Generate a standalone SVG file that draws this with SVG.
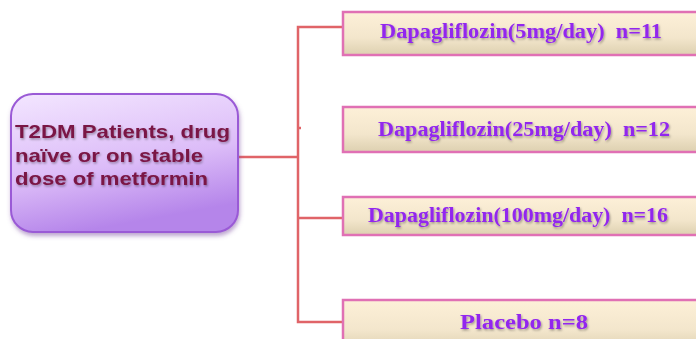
<svg xmlns="http://www.w3.org/2000/svg" width="696" height="339" viewBox="0 0 696 339">
<defs>
<linearGradient id="gL" x1="0" y1="0" x2="0.3" y2="1">
<stop offset="0" stop-color="#f3e6ff"/>
<stop offset="0.6" stop-color="#dcbcf8"/>
<stop offset="1" stop-color="#b585ea"/>
</linearGradient>
<linearGradient id="gB" x1="0" y1="0" x2="0" y2="1">
<stop offset="0" stop-color="#fdf0d8"/>
<stop offset="0.6" stop-color="#f3e6cc"/>
<stop offset="1" stop-color="#ddd0b0"/>
</linearGradient>
<filter id="sh" x="-10%" y="-10%" width="130%" height="130%">
<feDropShadow dx="1" dy="1.5" stdDeviation="1" flood-color="#000" flood-opacity="0.35"/>
</filter>
<filter id="bs" x="-10%" y="-10%" width="130%" height="130%">
<feDropShadow dx="1" dy="3" stdDeviation="2" flood-color="#7a4aa0" flood-opacity="0.5"/>
</filter>
</defs>
<style>
.arm{fill:url(#gB);stroke:#e070b4;stroke-width:2.5}
.at{font-family:"Liberation Serif",serif;font-weight:bold;font-size:20px;fill:#9226ee;text-anchor:middle;filter:url(#sh);white-space:pre}
.lt{font-family:"Liberation Sans",Arial,sans-serif;font-weight:bold;font-size:19px;fill:#7a1444;filter:url(#sh)}
.c{fill:none;stroke:#e06468;stroke-width:2.5}
</style>
<rect width="696" height="339" fill="#ffffff"/>
<g id="connectors">
<path class="c" d="M238,157 H298"/>
<path class="c" d="M342,27 H298 V322 H342"/>
<path class="c" d="M298,128 H301"/>
<path class="c" d="M298,218 H342"/>
</g>
<g id="patients">
<rect x="11" y="94" width="227" height="138" rx="22" fill="url(#gL)" stroke="#9a5ad6" stroke-width="2" filter="url(#bs)"/>
<text class="lt" x="15" y="138" textLength="215" lengthAdjust="spacingAndGlyphs">T2DM Patients, drug</text>
<text class="lt" x="15" y="162" textLength="188" lengthAdjust="spacingAndGlyphs">naïve or on stable</text>
<text class="lt" x="15" y="185" textLength="193" lengthAdjust="spacingAndGlyphs">dose of metformin</text>
</g>
<g id="arm1">
<rect class="arm" x="343" y="12" width="360" height="43"/>
<text class="at" x="521" y="38" textLength="282" lengthAdjust="spacingAndGlyphs" xml:space="preserve">Dapagliflozin(5mg/day)  n=11</text>
</g>
<g id="arm2">
<rect class="arm" x="343" y="107" width="360" height="45"/>
<text class="at" x="524" y="136" textLength="292" lengthAdjust="spacingAndGlyphs" xml:space="preserve">Dapagliflozin(25mg/day)  n=12</text>
</g>
<g id="arm3">
<rect class="arm" x="343" y="197" width="360" height="38"/>
<text class="at" x="518" y="222" textLength="300" lengthAdjust="spacingAndGlyphs" xml:space="preserve">Dapagliflozin(100mg/day)  n=16</text>
</g>
<g id="placebo">
<rect class="arm" x="343" y="300" width="360" height="50"/>
<text class="at" x="524" y="329" textLength="128" lengthAdjust="spacingAndGlyphs">Placebo n=8</text>
</g>
</svg>
